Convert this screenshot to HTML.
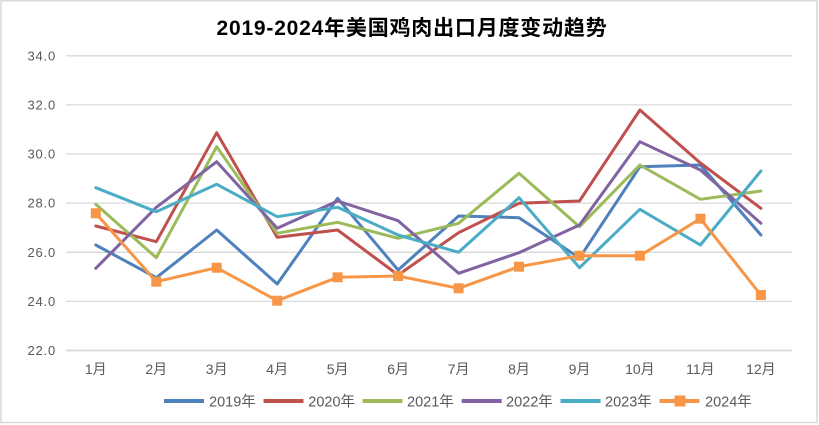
<!DOCTYPE html>
<html>
<head>
<meta charset="utf-8">
<style>
  html, body { margin:0; padding:0; background:#ffffff; }
  body { width:819px; height:425px; overflow:hidden; }
  svg { display:block; }
  .ylab { font-family:"Liberation Sans","Noto Sans CJK SC",sans-serif; font-size:13px; fill:#595959; letter-spacing:0.8px; }
  .xlab { font-family:"Liberation Sans","Noto Sans CJK SC",sans-serif; font-size:14px; fill:#595959; }
  .leg { font-family:"Liberation Sans","Noto Sans CJK SC",sans-serif; font-size:14.5px; fill:#595959; }
  .title { font-family:"Liberation Sans","Noto Sans CJK SC",sans-serif; font-size:21px; font-weight:bold; fill:#000000; letter-spacing:0.8px; }
</style>
</head>
<body>
<svg width="819" height="425" viewBox="0 0 819 425" xmlns="http://www.w3.org/2000/svg">
  <rect x="0" y="0" width="819" height="425" fill="#ffffff"/>
  <rect x="1" y="0.8" width="816" height="421.7" fill="none" stroke="#d9d9d9" stroke-width="1.5"/>

  <text class="title" x="412" y="35" text-anchor="middle">2019-2024年美国鸡肉出口月度变动趋势</text>

  <!-- gridlines -->
  <g stroke="#d9d9d9" stroke-width="1.3">
    <line x1="66" y1="55.8" x2="792" y2="55.8"/>
    <line x1="66" y1="104.9" x2="792" y2="104.9"/>
    <line x1="66" y1="154" x2="792" y2="154"/>
    <line x1="66" y1="203.1" x2="792" y2="203.1"/>
    <line x1="66" y1="252.3" x2="792" y2="252.3"/>
    <line x1="66" y1="301.4" x2="792" y2="301.4"/>
    <line x1="66" y1="350.5" x2="792" y2="350.5" stroke-width="1.8"/>
  </g>

  <!-- y labels -->
  <g class="ylab" text-anchor="end">
    <text x="56" y="60.3">34.0</text>
    <text x="56" y="109.4">32.0</text>
    <text x="56" y="158.5">30.0</text>
    <text x="56" y="207.6">28.0</text>
    <text x="56" y="256.8">26.0</text>
    <text x="56" y="305.9">24.0</text>
    <text x="56" y="355">22.0</text>
  </g>

  <!-- x labels -->
  <g class="xlab" text-anchor="middle">
    <text x="95.8" y="374">1月</text>
    <text x="156.3" y="374">2月</text>
    <text x="216.7" y="374">3月</text>
    <text x="277.2" y="374">4月</text>
    <text x="337.6" y="374">5月</text>
    <text x="398.1" y="374">6月</text>
    <text x="458.6" y="374">7月</text>
    <text x="519" y="374">8月</text>
    <text x="579.5" y="374">9月</text>
    <text x="639.9" y="374">10月</text>
    <text x="700.4" y="374">11月</text>
    <text x="760.9" y="374">12月</text>
  </g>

  <!-- series -->
  <g fill="none" stroke-width="3" stroke-linejoin="round" stroke-linecap="round">
    <polyline stroke="#4F81BD" points="95.8,245 156.3,277.7 216.7,230 277.2,284 337.6,198.3 398.1,270 458.6,216 519,217.7 579.5,258 639.9,166.7 700.4,165 760.9,235"/>
    <polyline stroke="#C0504D" points="95.8,226 156.3,241.7 216.7,132.7 277.2,237.3 337.6,230 398.1,275 458.6,232.7 519,203.3 579.5,201 639.9,110 700.4,163 760.9,208.3"/>
    <polyline stroke="#9BBB59" points="95.8,204.3 156.3,257.7 216.7,146.7 277.2,233.3 337.6,222.3 398.1,238.3 458.6,223.3 519,173.3 579.5,226.7 639.9,165 700.4,199.3 760.9,191"/>
    <polyline stroke="#8064A2" points="95.8,268.3 156.3,207.3 216.7,161.7 277.2,228.3 337.6,201 398.1,220.7 458.6,273.3 519,252.7 579.5,225 639.9,141.7 700.4,170 760.9,223.3"/>
    <polyline stroke="#4BACC6" points="95.8,187.7 156.3,211.7 216.7,184.3 277.2,216.7 337.6,207.3 398.1,235 458.6,252.3 519,197.7 579.5,267.7 639.9,209.3 700.4,245 760.9,171"/>
    <polyline stroke="#F79646" points="95.8,213.3 156.3,281.7 216.7,267.7 277.2,300.7 337.6,277.3 398.1,276 458.6,288.3 519,266.7 579.5,255.7 639.9,255.7 700.4,218.7 760.9,295"/>
  </g>
  <g fill="#F79646">
    <rect x="90.8" y="208.3" width="10" height="10"/>
    <rect x="151.3" y="276.7" width="10" height="10"/>
    <rect x="211.7" y="262.7" width="10" height="10"/>
    <rect x="272.2" y="295.7" width="10" height="10"/>
    <rect x="332.6" y="272.3" width="10" height="10"/>
    <rect x="393.1" y="271" width="10" height="10"/>
    <rect x="453.6" y="283.3" width="10" height="10"/>
    <rect x="514" y="261.7" width="10" height="10"/>
    <rect x="574.5" y="250.7" width="10" height="10"/>
    <rect x="634.9" y="250.7" width="10" height="10"/>
    <rect x="695.4" y="213.7" width="10" height="10"/>
    <rect x="755.9" y="290" width="10" height="10"/>
  </g>

  <!-- legend -->
  <g stroke-width="4" stroke-linecap="butt">
    <line x1="164" y1="401" x2="204" y2="401" stroke="#4F81BD"/>
    <line x1="263.5" y1="401" x2="303.5" y2="401" stroke="#C0504D"/>
    <line x1="362.5" y1="401" x2="402.5" y2="401" stroke="#9BBB59"/>
    <line x1="461.7" y1="401" x2="501.7" y2="401" stroke="#8064A2"/>
    <line x1="560.5" y1="401" x2="600.5" y2="401" stroke="#4BACC6"/>
    <line x1="659.5" y1="401" x2="699.5" y2="401" stroke="#F79646"/>
  </g>
  <rect x="674.5" y="395.5" width="11" height="11" fill="#F79646"/>
  <g class="leg">
    <text x="209" y="406.5">2019年</text>
    <text x="308.3" y="406.5">2020年</text>
    <text x="407" y="406.5">2021年</text>
    <text x="506" y="406.5">2022年</text>
    <text x="605" y="406.5">2023年</text>
    <text x="705" y="406.5">2024年</text>
  </g>
</svg>
</body>
</html>
